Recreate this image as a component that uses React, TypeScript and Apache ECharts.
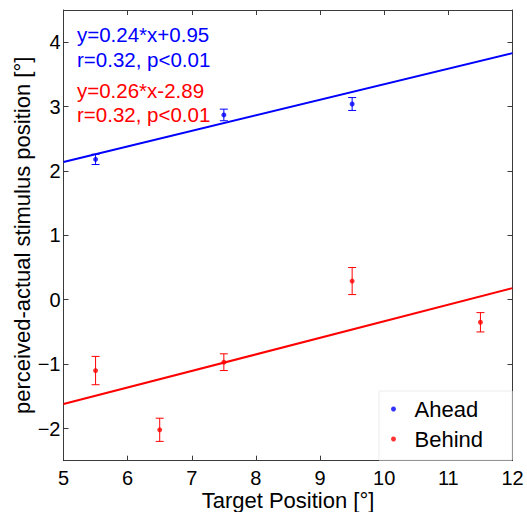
import React, { useEffect, useRef } from "react";
import * as echarts from "echarts";

const xTicks = [5, 6, 7, 8, 9, 10, 11, 12];
const yTicks = [-2, -1, 0, 1, 2, 3, 4];

const aheadX = [5.5, 7.5, 9.5];
const aheadY = [2.18, 2.87, 3.04];
const aheadErr = [0.08, 0.09, 0.1];

const behindX = [5.5, 6.5, 7.5, 9.5, 11.5];
const behindY = [-1.1, -2.02, -0.97, 0.29, -0.35];
const behindErr = [0.22, 0.18, 0.13, 0.21, 0.15];

const aheadFit = [[5, 2.14], [12, 3.83]];
const behindFit = [[5, -1.62], [12, 0.18]];

const annotations = [
  { text: "y=0.24*x+0.95", color: "#0000ff" },
  { text: "r=0.32, p<0.01", color: "#0000ff" },
  { text: "y=0.26*x-2.89", color: "#ff0000" },
  { text: "r=0.32, p<0.01", color: "#ff0000" },
];

const FONT = "'Liberation Sans', Arial, Helvetica, sans-serif";
const BLUE = "#0000ff";
const RED = "#ff0000";
const AXIS = "#3a3a3a";

function errData(xs: number[], ys: number[], es: number[]) {
  return xs.map((x, i) => [x, ys[i] - es[i], ys[i] + es[i]]);
}

function errRender(color: string) {
  return (params: any, api: any) => {
    const x = api.value(0);
    const lo = api.coord([x, api.value(1)]);
    const hi = api.coord([x, api.value(2)]);
    const cap = 4;
    const style = { stroke: color, lineWidth: 1 };
    return {
      type: "group",
      children: [
        { type: "line", shape: { x1: lo[0], y1: lo[1], x2: hi[0], y2: hi[1] }, style },
        { type: "line", shape: { x1: lo[0] - cap, y1: lo[1], x2: lo[0] + cap, y2: lo[1] }, style },
        { type: "line", shape: { x1: hi[0] - cap, y1: hi[1], x2: hi[0] + cap, y2: hi[1] }, style },
      ],
    };
  };
}

const minusFmt = (v: number) => (v < 0 ? "\u2212" + Math.abs(v) : String(v));

export default function App() {
  const ref = useRef<HTMLDivElement>(null);
  useEffect(() => {
    if (!ref.current) return;
    const chart = echarts.init(ref.current, undefined, { renderer: "svg" });
    const baselines = [41, 66, 97, 121];
    const tickCommon = { show: true, inside: true, length: 5, lineStyle: { color: AXIS, width: 1 } };
    chart.setOption({
      animation: false,
      backgroundColor: "#ffffff",
      textStyle: { fontFamily: FONT },
      grid: {
        left: 63.5,
        right: 14.5,
        top: 10,
        bottom: 51.3,
        show: false,
        containLabel: false,
        outerBoundsMode: "none",
      },
      xAxis: [
        {
          type: "value",
          min: 5,
          max: 12,
          interval: 1,
          position: "bottom",
          name: "Target Position [°]",
          nameLocation: "middle",
          nameGap: 30,
          nameMoveOverlap: false,
          nameTextStyle: { fontSize: 22, lineHeight: 20, color: "#000", fontFamily: FONT },
          axisLine: { show: true, onZero: false, lineStyle: { color: AXIS, width: 1 } },
          axisTick: tickCommon,
          axisLabel: { fontSize: 20, lineHeight: 18, color: "#000", margin: 8, fontFamily: FONT },
          splitLine: { show: false },
          data: xTicks,
        },
        {
          type: "value",
          min: 5,
          max: 12,
          interval: 1,
          position: "top",
          axisLine: { show: true, onZero: false, lineStyle: { color: AXIS, width: 1 } },
          axisTick: tickCommon,
          axisLabel: { show: false },
          splitLine: { show: false },
        },
      ],
      yAxis: [
        {
          type: "value",
          min: -2.5,
          max: 4.5,
          position: "left",
          name: "perceived-actual stimulus position [°]",
          nameLocation: "middle",
          nameGap: 30,
          nameMoveOverlap: false,
          nameTextStyle: { fontSize: 22, color: "#000", fontFamily: FONT },
          axisLine: { show: true, onZero: false, lineStyle: { color: AXIS, width: 1 } },
          axisTick: { ...tickCommon, customValues: yTicks },
          axisLabel: { fontSize: 20, color: "#000", margin: 3, fontFamily: FONT, customValues: yTicks, formatter: minusFmt },
          splitLine: { show: false },
        },
        {
          type: "value",
          min: -2.5,
          max: 4.5,
          position: "right",
          axisLine: { show: true, onZero: false, lineStyle: { color: AXIS, width: 1 } },
          axisTick: { ...tickCommon, customValues: yTicks },
          axisLabel: { show: false },
          splitLine: { show: false },
        },
      ],
      legend: {
        data: ["Ahead", "Behind"],
        orient: "vertical",
        right: 15,
        bottom: 52,
        icon: "circle",
        itemWidth: 32,
        itemHeight: 5,
        itemGap: 8,
        padding: [7, 29, 10, 12],
        backgroundColor: "#ffffff",
        borderColor: "#ececec",
        borderWidth: 1,
        textStyle: { fontSize: 22, color: "#000", fontFamily: FONT },
      },
      graphic: annotations.map((a, i) => ({
        type: "text",
        left: 77,
        top: baselines[i] - 17,
        style: { text: a.text, fill: a.color, fontSize: 20.5, fontFamily: FONT },
        z: 10,
      })),
      series: [
        {
          name: "Ahead fit",
          type: "line",
          data: aheadFit,
          symbol: "none",
          lineStyle: { color: BLUE, width: 2 },
          silent: true,
        },
        {
          name: "Behind fit",
          type: "line",
          data: behindFit,
          symbol: "none",
          lineStyle: { color: RED, width: 2 },
          silent: true,
        },
        {
          name: "Ahead err",
          type: "custom",
          data: errData(aheadX, aheadY, aheadErr),
          renderItem: errRender(BLUE),
          encode: { x: 0, y: [1, 2] },
        },
        {
          name: "Behind err",
          type: "custom",
          data: errData(behindX, behindY, behindErr),
          renderItem: errRender(RED),
          encode: { x: 0, y: [1, 2] },
        },
        {
          name: "Ahead",
          type: "scatter",
          data: aheadX.map((x, i) => [x, aheadY[i]]),
          symbol: "circle",
          symbolSize: 5,
          itemStyle: { color: BLUE },
        },
        {
          name: "Behind",
          type: "scatter",
          data: behindX.map((x, i) => [x, behindY[i]]),
          symbol: "circle",
          symbolSize: 5,
          itemStyle: { color: RED },
        },
      ],
    });
    return () => chart.dispose();
  }, []);
  return (
    <div
      ref={ref}
      style={{ position: "absolute", left: 0, top: 0, width: 527, height: 512 }}
    />
  );
}
